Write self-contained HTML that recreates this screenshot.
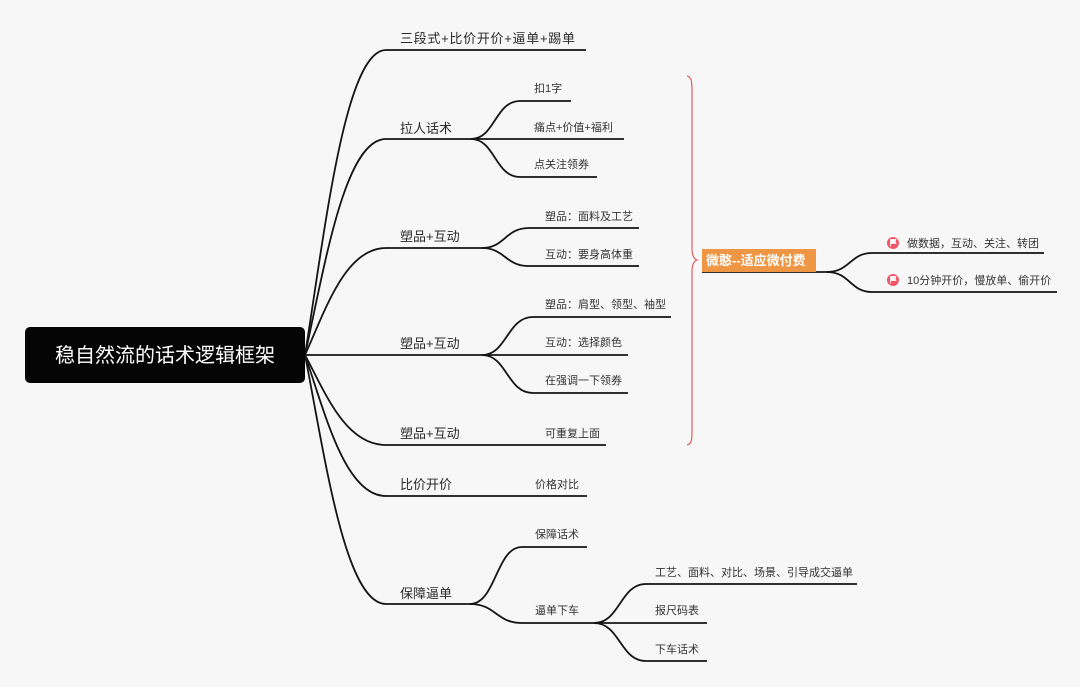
<!DOCTYPE html>
<html><head><meta charset="utf-8"><style>
html,body{margin:0;padding:0;background:#f7f7f7;}
svg{display:block;}
text{font-family:"Liberation Sans","Noto Sans CJK SC",sans-serif;}
.l1{font-size:13px;fill:#2a2a2a;}
.l2{font-size:11px;fill:#333;}
.ln{fill:none;stroke:#151515;stroke-width:1.8;}
</style></head><body>
<svg width="1080" height="687" viewBox="0 0 1080 687" xmlns="http://www.w3.org/2000/svg">
<rect width="1080" height="687" fill="#f7f7f7"/>
<!-- root branches -->
<g class="ln">
<path d="M305,355 C325,230 345,50 386,50 H586"/>
<path d="M305,355 C325,264 345,139 386,139 H473"/>
<path d="M305,355 C325,311 345,248 386,248 H482"/>
<path d="M305,355 H482"/>
<path d="M305,355 C325,392 345,445 386,445 H606"/>
<path d="M305,355 C325,413 345,496 386,496 H587"/>
<path d="M305,355 C325,457 345,604 386,604 H472"/>
<!-- 拉人话术 -->
<path d="M471,139 C495,139 495,101 520,101 H571"/>
<path d="M471,139 H624"/>
<path d="M471,139 C495,139 495,177 520,177 H597"/>
<!-- 塑品1 -->
<path d="M482,248 C505,248 505,228 529,228 H639"/>
<path d="M482,248 C505,248 505,266 529,266 H639"/>
<!-- 塑品2 -->
<path d="M482,355 C507,355 507,317 533,317 H671"/>
<path d="M482,355 H628"/>
<path d="M482,355 C507,355 507,393 533,393 H628"/>
<!-- 保障逼单 -->
<path d="M470,604 C496,604 496,547 522,547 H587"/>
<path d="M470,604 C496,604 496,623 522,623 H594"/>
<!-- 逼单下车 -->
<path d="M594,623 C620,623 620,584 646,584 H857"/>
<path d="M594,623 H707"/>
<path d="M594,623 C620,623 620,661 646,661 H707"/>
<!-- orange -->
<path d="M702,272 H827"/>
<path d="M827,272 C850,272 850,253 872,253 H1044"/>
<path d="M827,272 C850,272 850,292 872,292 H1057"/>
</g>
<!-- root node -->
<rect x="25" y="327" width="280" height="56" rx="5" fill="#050505"/>
<text x="165" y="362" text-anchor="middle" style="font-size:20px;fill:#fff;">稳自然流的话术逻辑框架</text>
<!-- level 1 text -->
<text class="l1" x="400" y="43" textLength="175" lengthAdjust="spacing">三段式+比价开价+逼单+踢单</text>
<text class="l1" x="400" y="133">拉人话术</text>
<text class="l1" x="400" y="241">塑品+互动</text>
<text class="l1" x="400" y="348">塑品+互动</text>
<text class="l1" x="400" y="438">塑品+互动</text>
<text class="l1" x="400" y="489">比价开价</text>
<text class="l1" x="400" y="598">保障逼单</text>
<!-- level 2 text -->
<text class="l2" x="534" y="92">扣1字</text>
<text class="l2" x="534" y="131">痛点+价值+福利</text>
<text class="l2" x="534" y="168">点关注领券</text>
<text class="l2" x="545" y="220">塑品：面料及工艺</text>
<text class="l2" x="545" y="258">互动：要身高体重</text>
<text class="l2" x="545" y="308">塑品：肩型、领型、袖型</text>
<text class="l2" x="545" y="346">互动：选择颜色</text>
<text class="l2" x="545" y="384">在强调一下领券</text>
<text class="l2" x="545" y="437">可重复上面</text>
<text class="l2" x="535" y="488">价格对比</text>
<text class="l2" x="535" y="538">保障话术</text>
<text class="l2" x="535" y="614">逼单下车</text>
<text class="l2" x="655" y="576">工艺、面料、对比、场景、引导成交逼单</text>
<text class="l2" x="655" y="614">报尺码表</text>
<text class="l2" x="655" y="653">下车话术</text>
<!-- brace -->
<path d="M687,76 C691,77 692,80 692,90 V248 C692,255 694,259 697,260 C694,261 692,265 692,272 V432 C692,441 691,444 687,445" fill="none" stroke="#d9534f" stroke-width="1.1"/>
<!-- orange node -->
<rect x="702" y="249" width="114" height="23" fill="#ef9644"/>
<text x="706" y="265" style="font-size:13px;font-weight:bold;fill:#fff;">微憨--适应微付费</text>
<!-- flag icons -->
<g>
<circle cx="893" cy="243" r="6" fill="#f25468"/>
<path d="M890.5,246.5 V239.5 H896 L895,241.5 L896,243.5 H891" fill="#fff" stroke="#fff" stroke-width="0.8"/>
<circle cx="893" cy="280" r="6" fill="#f25468"/>
<path d="M890.5,283.5 V276.5 H896 L895,278.5 L896,280.5 H891" fill="#fff" stroke="#fff" stroke-width="0.8"/>
</g>
<text class="l2" x="907" y="247">做数据，互动、关注、转团</text>
<text class="l2" x="907" y="284">10分钟开价，慢放单、偷开价</text>
</svg>
</body></html>
